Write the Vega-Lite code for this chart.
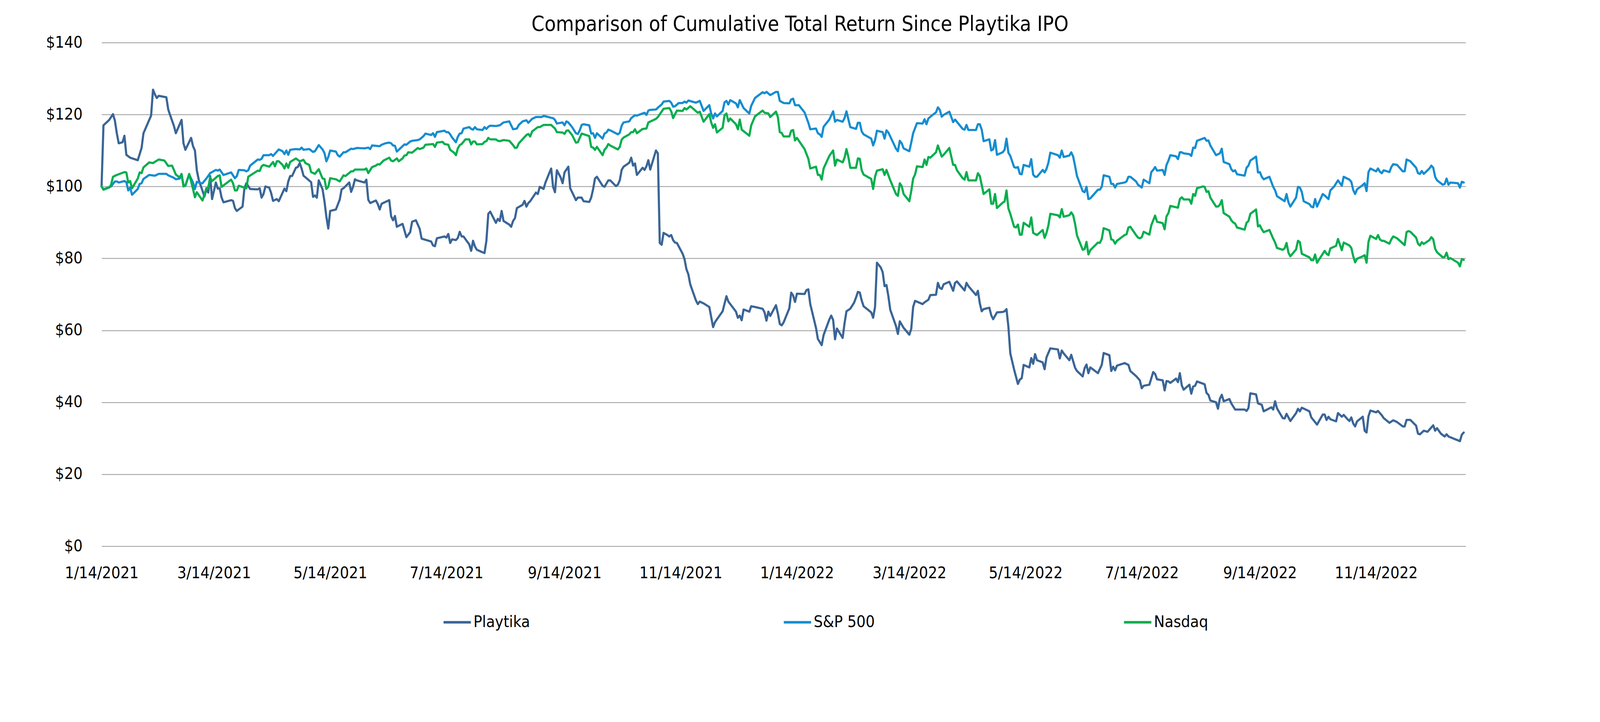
{
"$schema": "https://vega.github.io/schema/vega-lite/v6.json",
"width": 3492, "height": 1289,
"autosize": {"type": "none"},
"padding": {"left": 260, "top": 109, "right": 344, "bottom": 450},
"background": "white",
"title": {"text": "Comparison of Cumulative Total Return Since Playtika IPO", "font": "Liberation Sans Narrow, Arial Narrow, DejaVu Sans Condensed, Liberation Sans, sans-serif", "fontSize": 53, "fontWeight": "normal", "color": "#000000", "anchor": "middle", "offset": -2, "dx": 42},
"config": {"view": {"stroke": null}, "font": "Liberation Sans Narrow, Arial Narrow, DejaVu Sans Condensed, Liberation Sans, sans-serif"},
"encoding": {
 "x": {"field": "d", "type": "temporal",
  "scale": {"type": "utc", "domain": [{"year": 2021, "month": 1, "date": 14, "utc": true}, {"year": 2022, "month": 12, "date": 31, "utc": true}]},
  "axis": {"title": null, "values": [
   {"year": 2021, "month": 1, "date": 14, "utc": true}, {"year": 2021, "month": 3, "date": 14, "utc": true}, {"year": 2021, "month": 5, "date": 14, "utc": true}, {"year": 2021, "month": 7, "date": 14, "utc": true}, {"year": 2021, "month": 9, "date": 14, "utc": true}, {"year": 2021, "month": 11, "date": 14, "utc": true},
   {"year": 2022, "month": 1, "date": 14, "utc": true}, {"year": 2022, "month": 3, "date": 14, "utc": true}, {"year": 2022, "month": 5, "date": 14, "utc": true}, {"year": 2022, "month": 7, "date": 14, "utc": true}, {"year": 2022, "month": 9, "date": 14, "utc": true}, {"year": 2022, "month": 11, "date": 14, "utc": true}],
   "labelExpr": "utcFormat(datum.value, '%-m/%-d/%Y')", "labelFontSize": 41, "labelColor": "#000000", "labelLimit": 1000, "grid": false, "domain": false, "ticks": false, "tickSize": 0, "labelPadding": 49, "labelFlush": false, "labelOverlap": false}},
 "y": {"field": "v", "type": "quantitative", "scale": {"domain": [0, 140], "nice": false, "zero": true},
  "axis": {"title": null, "values": [0, 20, 40, 60, 80, 100, 120, 140], "format": "$.0f", "labelFontSize": 41, "labelColor": "#000000", "labelLimit": 1000, "grid": true, "gridColor": "#999999", "gridWidth": 2, "domain": false, "ticks": false, "tickSize": 0, "labelPadding": 49}}
},
"layer": [
{"data": {"values": [
{"d":"2021-01-14","v":100},{"d":"2021-01-15","v":117},{"d":"2021-01-18","v":118.5},{"d":"2021-01-20","v":120.1},{"d":"2021-01-21","v":118.3},{"d":"2021-01-22","v":114.8},{"d":"2021-01-23","v":112},{"d":"2021-01-25","v":112.3},{"d":"2021-01-26","v":114.1},{"d":"2021-01-27","v":108.8},{"d":"2021-01-29","v":108},{"d":"2021-02-02","v":107.3},{"d":"2021-02-04","v":110.7},{"d":"2021-02-05","v":114.8},{"d":"2021-02-09","v":119.7},{"d":"2021-02-10","v":126.9},{"d":"2021-02-11","v":125.6},{"d":"2021-02-12","v":124.6},{"d":"2021-02-13","v":125.2},{"d":"2021-02-17","v":124.8},{"d":"2021-02-18","v":121.4},{"d":"2021-02-19","v":119.8},{"d":"2021-02-21","v":116.8},{"d":"2021-02-22","v":114.8},{"d":"2021-02-25","v":118.5},{"d":"2021-02-26","v":112},{"d":"2021-02-27","v":110.2},
{"d":"2021-03-02","v":113.5},{"d":"2021-03-03","v":111.2},{"d":"2021-03-04","v":110},{"d":"2021-03-05","v":104.5},{"d":"2021-03-06","v":101.9},{"d":"2021-03-09","v":97.2},{"d":"2021-03-10","v":99.2},{"d":"2021-03-11","v":98.3},{"d":"2021-03-12","v":102.9},{"d":"2021-03-13","v":96.5},{"d":"2021-03-15","v":101.1},{"d":"2021-03-16","v":99.4},{"d":"2021-03-17","v":99.5},{"d":"2021-03-18","v":96.9},{"d":"2021-03-19","v":95.6},{"d":"2021-03-23","v":96.2},{"d":"2021-03-24","v":96},{"d":"2021-03-25","v":94},{"d":"2021-03-26","v":93.2},{"d":"2021-03-29","v":94.4},{"d":"2021-03-30","v":99.5},{"d":"2021-03-31","v":100.9},
{"d":"2021-04-02","v":99.3},{"d":"2021-04-06","v":99.2},{"d":"2021-04-07","v":99.5},{"d":"2021-04-08","v":96.9},{"d":"2021-04-09","v":97.9},{"d":"2021-04-10","v":100},{"d":"2021-04-12","v":99.7},{"d":"2021-04-13","v":98.2},{"d":"2021-04-14","v":96},{"d":"2021-04-16","v":96.5},{"d":"2021-04-17","v":95.9},{"d":"2021-04-20","v":99.4},{"d":"2021-04-21","v":98.7},{"d":"2021-04-22","v":101.4},{"d":"2021-04-23","v":102.9},{"d":"2021-04-24","v":102.9},{"d":"2021-04-26","v":105.2},{"d":"2021-04-27","v":105.4},{"d":"2021-04-28","v":106.5},{"d":"2021-04-29","v":105},{"d":"2021-04-30","v":103},
{"d":"2021-05-04","v":101.2},{"d":"2021-05-05","v":97.1},{"d":"2021-05-06","v":97.5},{"d":"2021-05-07","v":96.9},{"d":"2021-05-08","v":101.7},{"d":"2021-05-10","v":99.2},{"d":"2021-05-11","v":95.9},{"d":"2021-05-12","v":91.6},{"d":"2021-05-13","v":88.3},{"d":"2021-05-14","v":93.2},{"d":"2021-05-17","v":93.6},{"d":"2021-05-19","v":96.3},{"d":"2021-05-20","v":99.2},{"d":"2021-05-21","v":99.5},{"d":"2021-05-24","v":101.1},{"d":"2021-05-25","v":98.5},{"d":"2021-05-26","v":99.9},{"d":"2021-05-27","v":102},{"d":"2021-05-28","v":101.7},
{"d":"2021-06-01","v":101.1},{"d":"2021-06-02","v":101.9},{"d":"2021-06-03","v":96.3},{"d":"2021-06-04","v":95.4},{"d":"2021-06-07","v":96.1},{"d":"2021-06-08","v":95.1},{"d":"2021-06-09","v":93.6},{"d":"2021-06-10","v":95.2},{"d":"2021-06-14","v":96.2},{"d":"2021-06-15","v":91.7},{"d":"2021-06-16","v":90.6},{"d":"2021-06-17","v":91.8},{"d":"2021-06-18","v":88.8},{"d":"2021-06-21","v":89.6},{"d":"2021-06-23","v":85.9},{"d":"2021-06-25","v":87.3},{"d":"2021-06-26","v":90.2},{"d":"2021-06-28","v":90.6},{"d":"2021-06-30","v":88.2},
{"d":"2021-07-01","v":85.5},{"d":"2021-07-06","v":84.7},{"d":"2021-07-07","v":83.6},{"d":"2021-07-08","v":83.4},{"d":"2021-07-09","v":85.6},{"d":"2021-07-13","v":86.1},{"d":"2021-07-14","v":85.8},{"d":"2021-07-15","v":86.8},{"d":"2021-07-16","v":84.3},{"d":"2021-07-17","v":85.3},{"d":"2021-07-19","v":85.1},{"d":"2021-07-20","v":85.7},{"d":"2021-07-21","v":87.4},{"d":"2021-07-22","v":86.1},{"d":"2021-07-23","v":86.1},{"d":"2021-07-26","v":83.9},{"d":"2021-07-27","v":82.1},{"d":"2021-07-28","v":84.9},{"d":"2021-07-29","v":83.3},{"d":"2021-07-30","v":82.4},
{"d":"2021-08-02","v":81.7},{"d":"2021-08-03","v":81.5},{"d":"2021-08-04","v":84.9},{"d":"2021-08-05","v":92.4},{"d":"2021-08-06","v":93},{"d":"2021-08-09","v":89.9},{"d":"2021-08-10","v":91},{"d":"2021-08-11","v":90.4},{"d":"2021-08-12","v":93.2},{"d":"2021-08-13","v":90.4},{"d":"2021-08-16","v":89.4},{"d":"2021-08-17","v":88.8},{"d":"2021-08-18","v":90.4},{"d":"2021-08-19","v":91.2},{"d":"2021-08-20","v":94},{"d":"2021-08-23","v":94.9},{"d":"2021-08-24","v":96},{"d":"2021-08-25","v":94.4},{"d":"2021-08-26","v":95.4},{"d":"2021-08-27","v":95.9},{"d":"2021-08-30","v":98.3},{"d":"2021-08-31","v":97.9},
{"d":"2021-09-01","v":99.9},{"d":"2021-09-03","v":99.3},{"d":"2021-09-04","v":101.1},{"d":"2021-09-07","v":105},{"d":"2021-09-08","v":99.9},{"d":"2021-09-09","v":98.4},{"d":"2021-09-10","v":104.5},{"d":"2021-09-12","v":102.5},{"d":"2021-09-13","v":100.9},{"d":"2021-09-14","v":103.9},{"d":"2021-09-16","v":105.5},{"d":"2021-09-17","v":99.5},{"d":"2021-09-20","v":96.2},{"d":"2021-09-21","v":96.9},{"d":"2021-09-23","v":96.9},{"d":"2021-09-24","v":95.9},{"d":"2021-09-27","v":95.7},{"d":"2021-09-28","v":96.9},{"d":"2021-09-29","v":99.2},{"d":"2021-09-30","v":102.2},
{"d":"2021-10-01","v":102.7},{"d":"2021-10-04","v":100.2},{"d":"2021-10-05","v":99.9},{"d":"2021-10-07","v":101.7},{"d":"2021-10-08","v":101.7},{"d":"2021-10-11","v":100.1},{"d":"2021-10-12","v":100.5},{"d":"2021-10-13","v":101.7},{"d":"2021-10-14","v":104.6},{"d":"2021-10-15","v":105.5},{"d":"2021-10-18","v":106.6},{"d":"2021-10-19","v":108},{"d":"2021-10-20","v":105.8},{"d":"2021-10-21","v":106.4},{"d":"2021-10-22","v":103.2},{"d":"2021-10-25","v":105.2},{"d":"2021-10-26","v":104.6},{"d":"2021-10-27","v":105.6},{"d":"2021-10-28","v":107.3},{"d":"2021-10-29","v":104.7},
{"d":"2021-11-01","v":110},{"d":"2021-11-02","v":109.2},{"d":"2021-11-03","v":84.3},{"d":"2021-11-04","v":83.8},{"d":"2021-11-05","v":87.1},{"d":"2021-11-07","v":86.5},{"d":"2021-11-08","v":86.1},{"d":"2021-11-09","v":86.5},{"d":"2021-11-10","v":85.1},{"d":"2021-11-11","v":84.4},{"d":"2021-11-12","v":84.3},{"d":"2021-11-15","v":81.3},{"d":"2021-11-16","v":79.8},{"d":"2021-11-17","v":77},{"d":"2021-11-18","v":75.6},{"d":"2021-11-19","v":72.8},{"d":"2021-11-22","v":68.3},{"d":"2021-11-23","v":67.3},{"d":"2021-11-24","v":68},{"d":"2021-11-26","v":67.5},{"d":"2021-11-29","v":66.5},
{"d":"2021-12-01","v":60.9},{"d":"2021-12-02","v":62.3},{"d":"2021-12-06","v":65.3},{"d":"2021-12-08","v":69.5},{"d":"2021-12-09","v":68},{"d":"2021-12-13","v":65.2},{"d":"2021-12-14","v":63.5},{"d":"2021-12-15","v":64.1},{"d":"2021-12-16","v":62.8},{"d":"2021-12-17","v":65.8},{"d":"2021-12-20","v":65.2},{"d":"2021-12-21","v":66.7},{"d":"2021-12-23","v":66.5},{"d":"2021-12-27","v":66},{"d":"2021-12-28","v":65},{"d":"2021-12-29","v":62.7},{"d":"2021-12-30","v":65.2},{"d":"2021-12-31","v":64},
{"d":"2022-01-03","v":67},{"d":"2022-01-04","v":64.7},{"d":"2022-01-05","v":61.8},{"d":"2022-01-06","v":61.4},{"d":"2022-01-07","v":62.2},{"d":"2022-01-10","v":66.1},{"d":"2022-01-11","v":70.5},{"d":"2022-01-12","v":69.7},{"d":"2022-01-13","v":67.9},{"d":"2022-01-14","v":70.2},{"d":"2022-01-18","v":70.1},{"d":"2022-01-19","v":71.2},{"d":"2022-01-20","v":71.4},{"d":"2022-01-21","v":67.3},{"d":"2022-01-24","v":60.7},{"d":"2022-01-25","v":57.6},{"d":"2022-01-27","v":55.9},{"d":"2022-01-28","v":58.7},{"d":"2022-01-31","v":63},
{"d":"2022-02-01","v":64.1},{"d":"2022-02-02","v":62.9},{"d":"2022-02-03","v":57.5},{"d":"2022-02-04","v":60.5},{"d":"2022-02-07","v":57.9},{"d":"2022-02-08","v":62},{"d":"2022-02-09","v":65.3},{"d":"2022-02-11","v":66},{"d":"2022-02-13","v":67.7},{"d":"2022-02-14","v":69.1},{"d":"2022-02-15","v":70.7},{"d":"2022-02-16","v":70.5},{"d":"2022-02-17","v":68.3},{"d":"2022-02-18","v":66.7},{"d":"2022-02-22","v":65},{"d":"2022-02-23","v":63.5},{"d":"2022-02-24","v":66.5},{"d":"2022-02-25","v":78.8},{"d":"2022-02-27","v":77.5},{"d":"2022-02-28","v":76.2},
{"d":"2022-03-01","v":72.3},{"d":"2022-03-02","v":72.6},{"d":"2022-03-03","v":69.5},{"d":"2022-03-04","v":65.7},{"d":"2022-03-07","v":61.2},{"d":"2022-03-08","v":59},{"d":"2022-03-09","v":62.5},{"d":"2022-03-11","v":60.7},{"d":"2022-03-14","v":58.8},{"d":"2022-03-15","v":60.4},{"d":"2022-03-16","v":66.5},{"d":"2022-03-17","v":68.2},{"d":"2022-03-21","v":67.3},{"d":"2022-03-22","v":67.8},{"d":"2022-03-24","v":68.5},{"d":"2022-03-25","v":69.8},{"d":"2022-03-28","v":69.9},{"d":"2022-03-29","v":73.2},{"d":"2022-03-30","v":71.8},{"d":"2022-03-31","v":71.5},
{"d":"2022-04-01","v":72.8},{"d":"2022-04-04","v":73.5},{"d":"2022-04-06","v":71},{"d":"2022-04-07","v":73.2},{"d":"2022-04-08","v":73.6},{"d":"2022-04-12","v":71.1},{"d":"2022-04-13","v":73.2},{"d":"2022-04-14","v":72.3},{"d":"2022-04-18","v":69.8},{"d":"2022-04-19","v":71},{"d":"2022-04-20","v":67.5},{"d":"2022-04-21","v":65.3},{"d":"2022-04-22","v":65.9},{"d":"2022-04-25","v":66.3},{"d":"2022-04-26","v":64.2},{"d":"2022-04-27","v":63.1},{"d":"2022-04-29","v":65},
{"d":"2022-05-02","v":65.1},{"d":"2022-05-03","v":65.3},{"d":"2022-05-04","v":65.9},{"d":"2022-05-05","v":61},{"d":"2022-05-06","v":53.6},{"d":"2022-05-08","v":49.1},{"d":"2022-05-10","v":45.1},{"d":"2022-05-11","v":46.3},{"d":"2022-05-12","v":46.7},{"d":"2022-05-13","v":50.4},{"d":"2022-05-16","v":49.7},{"d":"2022-05-17","v":52.3},{"d":"2022-05-18","v":50.7},{"d":"2022-05-19","v":53.4},{"d":"2022-05-20","v":51.7},{"d":"2022-05-23","v":51.1},{"d":"2022-05-24","v":49.2},{"d":"2022-05-25","v":52.5},{"d":"2022-05-27","v":55},{"d":"2022-05-31","v":54.7},
{"d":"2022-06-01","v":52.2},{"d":"2022-06-02","v":54.4},{"d":"2022-06-03","v":53.6},{"d":"2022-06-06","v":51.7},{"d":"2022-06-07","v":53.2},{"d":"2022-06-09","v":49.6},{"d":"2022-06-10","v":48.7},{"d":"2022-06-13","v":47.2},{"d":"2022-06-14","v":49.5},{"d":"2022-06-15","v":50.5},{"d":"2022-06-16","v":48.1},{"d":"2022-06-17","v":49.7},{"d":"2022-06-21","v":48.1},{"d":"2022-06-23","v":50.4},{"d":"2022-06-24","v":53.7},{"d":"2022-06-27","v":53.1},{"d":"2022-06-28","v":48.7},{"d":"2022-06-29","v":49.9},{"d":"2022-06-30","v":48.9},
{"d":"2022-07-01","v":50.2},{"d":"2022-07-05","v":50.9},{"d":"2022-07-07","v":50.4},{"d":"2022-07-08","v":48.7},{"d":"2022-07-11","v":47.3},{"d":"2022-07-13","v":46.1},{"d":"2022-07-14","v":43.9},{"d":"2022-07-15","v":44.6},{"d":"2022-07-18","v":44.9},{"d":"2022-07-20","v":48.4},{"d":"2022-07-21","v":47.9},{"d":"2022-07-22","v":46.4},{"d":"2022-07-25","v":46.1},{"d":"2022-07-26","v":43.3},{"d":"2022-07-27","v":45.9},{"d":"2022-07-28","v":45.8},{"d":"2022-07-29","v":45.4},
{"d":"2022-08-01","v":46.6},{"d":"2022-08-02","v":45.6},{"d":"2022-08-03","v":48.1},{"d":"2022-08-04","v":44.7},{"d":"2022-08-05","v":43.5},{"d":"2022-08-08","v":44.9},{"d":"2022-08-09","v":42.4},{"d":"2022-08-10","v":44.4},{"d":"2022-08-11","v":44.6},{"d":"2022-08-12","v":45.8},{"d":"2022-08-16","v":45},{"d":"2022-08-17","v":42.6},{"d":"2022-08-18","v":42.1},{"d":"2022-08-19","v":40.5},{"d":"2022-08-22","v":40},{"d":"2022-08-23","v":38.2},{"d":"2022-08-24","v":41},{"d":"2022-08-25","v":42.1},{"d":"2022-08-26","v":40.3},{"d":"2022-08-29","v":40.9},{"d":"2022-08-30","v":39.7},
{"d":"2022-09-01","v":38},{"d":"2022-09-06","v":38},{"d":"2022-09-07","v":37.6},{"d":"2022-09-08","v":38.4},{"d":"2022-09-09","v":42.5},{"d":"2022-09-12","v":42.2},{"d":"2022-09-13","v":39.7},{"d":"2022-09-15","v":39.3},{"d":"2022-09-16","v":37.5},{"d":"2022-09-20","v":38.6},{"d":"2022-09-21","v":38},{"d":"2022-09-22","v":40.3},{"d":"2022-09-23","v":38.3},{"d":"2022-09-26","v":35.6},{"d":"2022-09-27","v":35.5},{"d":"2022-09-28","v":36.8},{"d":"2022-09-30","v":34.8},
{"d":"2022-10-03","v":37},{"d":"2022-10-04","v":38.2},{"d":"2022-10-05","v":37.5},{"d":"2022-10-06","v":38.5},{"d":"2022-10-10","v":37.5},{"d":"2022-10-11","v":35.8},{"d":"2022-10-14","v":33.8},{"d":"2022-10-17","v":36.6},{"d":"2022-10-18","v":36.6},{"d":"2022-10-19","v":35.1},{"d":"2022-10-20","v":36},{"d":"2022-10-21","v":35.3},{"d":"2022-10-24","v":34.7},{"d":"2022-10-25","v":37},{"d":"2022-10-27","v":36},{"d":"2022-10-28","v":36.5},{"d":"2022-10-30","v":35.3},{"d":"2022-10-31","v":34.8},
{"d":"2022-11-01","v":35.8},{"d":"2022-11-02","v":34.1},{"d":"2022-11-03","v":33.3},{"d":"2022-11-04","v":34.7},{"d":"2022-11-07","v":36},{"d":"2022-11-08","v":32.1},{"d":"2022-11-09","v":31.6},{"d":"2022-11-10","v":36.1},{"d":"2022-11-11","v":37.7},{"d":"2022-11-14","v":37.2},{"d":"2022-11-15","v":37.6},{"d":"2022-11-17","v":36.4},{"d":"2022-11-18","v":35.6},{"d":"2022-11-21","v":34.3},{"d":"2022-11-23","v":35},{"d":"2022-11-25","v":34.5},{"d":"2022-11-28","v":33.3},{"d":"2022-11-29","v":33.3},{"d":"2022-11-30","v":35.1},
{"d":"2022-12-02","v":35.1},{"d":"2022-12-05","v":33.5},{"d":"2022-12-06","v":31.3},{"d":"2022-12-07","v":31.1},{"d":"2022-12-09","v":32.1},{"d":"2022-12-11","v":31.8},{"d":"2022-12-12","v":32.4},{"d":"2022-12-14","v":33.6},{"d":"2022-12-15","v":32.1},{"d":"2022-12-16","v":32.8},{"d":"2022-12-18","v":31.3},{"d":"2022-12-20","v":30.5},{"d":"2022-12-21","v":31.1},{"d":"2022-12-22","v":30.5},{"d":"2022-12-28","v":29.2},{"d":"2022-12-29","v":31},{"d":"2022-12-30","v":31.6}
]},
 "mark": {"type": "line", "strokeWidth": 5.5, "strokeJoin": "round", "strokeCap": "round"},
 "encoding": {"color": {"datum": "Playtika", "type": "nominal",
  "scale": {"domain": ["Playtika", "S&P 500", "Nasdaq"], "range": ["#3A6596", "#148DD0", "#05AE4E"]},
  "legend": {"title": null, "orient": "none", "legendX": 872, "legendY": 1445, "direction": "horizontal", "columns": 3, "gridAlign": "all", "columnPadding": 624, "symbolType": "stroke", "symbolSize": 4900, "symbolStrokeWidth": 6.5, "labelFontSize": 41, "labelColor": "#000000", "labelOffset": 3, "labelLimit": 1000}}}
},
{"data": {"values": [
{"d":"2021-01-14","v":100},{"d":"2021-01-15","v":99.2},{"d":"2021-01-19","v":100},{"d":"2021-01-21","v":101.4},{"d":"2021-01-22","v":101.4},{"d":"2021-01-23","v":101.1},{"d":"2021-01-26","v":101.5},{"d":"2021-01-27","v":101.2},{"d":"2021-01-28","v":98.9},{"d":"2021-01-29","v":99.7},{"d":"2021-01-30","v":97.7},{"d":"2021-02-02","v":99.3},{"d":"2021-02-03","v":100.7},{"d":"2021-02-04","v":100.9},{"d":"2021-02-05","v":102.1},{"d":"2021-02-08","v":103.2},{"d":"2021-02-11","v":103},{"d":"2021-02-13","v":103.5},{"d":"2021-02-17","v":103.5},{"d":"2021-02-18","v":103.1},{"d":"2021-02-21","v":102.4},{"d":"2021-02-22","v":102},{"d":"2021-02-24","v":102.2},{"d":"2021-02-25","v":103.2},{"d":"2021-02-26","v":100.4},{"d":"2021-02-27","v":100.2},
{"d":"2021-03-01","v":103.3},{"d":"2021-03-03","v":101.1},{"d":"2021-03-04","v":99.3},{"d":"2021-03-05","v":101.3},{"d":"2021-03-07","v":100.9},{"d":"2021-03-08","v":100.9},{"d":"2021-03-10","v":102.2},{"d":"2021-03-12","v":103.7},{"d":"2021-03-15","v":104.6},{"d":"2021-03-16","v":104.4},{"d":"2021-03-17","v":104.7},{"d":"2021-03-19","v":103.2},{"d":"2021-03-23","v":103.9},{"d":"2021-03-25","v":102.3},{"d":"2021-03-26","v":102.9},{"d":"2021-03-27","v":104.6},{"d":"2021-03-30","v":104.5},{"d":"2021-03-31","v":104.2},
{"d":"2021-04-01","v":104.5},{"d":"2021-04-02","v":105.8},{"d":"2021-04-06","v":107.5},{"d":"2021-04-07","v":107.4},{"d":"2021-04-08","v":107.7},{"d":"2021-04-09","v":108.7},{"d":"2021-04-12","v":108.7},{"d":"2021-04-13","v":109},{"d":"2021-04-14","v":108.5},{"d":"2021-04-16","v":109.7},{"d":"2021-04-17","v":110.3},{"d":"2021-04-19","v":109.8},{"d":"2021-04-20","v":109},{"d":"2021-04-21","v":110},{"d":"2021-04-22","v":108.8},{"d":"2021-04-23","v":110.2},{"d":"2021-04-26","v":110.4},{"d":"2021-04-28","v":110.3},{"d":"2021-04-29","v":110.8},{"d":"2021-04-30","v":110.2},
{"d":"2021-05-03","v":110.4},{"d":"2021-05-05","v":109.6},{"d":"2021-05-06","v":109.8},{"d":"2021-05-08","v":111.5},{"d":"2021-05-10","v":110.3},{"d":"2021-05-11","v":109.3},{"d":"2021-05-12","v":107},{"d":"2021-05-13","v":108.2},{"d":"2021-05-14","v":110},{"d":"2021-05-17","v":109.7},{"d":"2021-05-18","v":108.7},{"d":"2021-05-19","v":108.3},{"d":"2021-05-21","v":109.5},{"d":"2021-05-22","v":109.5},{"d":"2021-05-25","v":110.5},{"d":"2021-05-26","v":110.4},{"d":"2021-05-28","v":110.7},
{"d":"2021-06-01","v":110.6},{"d":"2021-06-03","v":110.8},{"d":"2021-06-04","v":110.4},{"d":"2021-06-05","v":111.4},{"d":"2021-06-09","v":111.2},{"d":"2021-06-10","v":111.6},{"d":"2021-06-12","v":112},{"d":"2021-06-14","v":112.2},{"d":"2021-06-15","v":112},{"d":"2021-06-16","v":111.4},{"d":"2021-06-17","v":111.3},{"d":"2021-06-18","v":109.7},{"d":"2021-06-22","v":111.7},{"d":"2021-06-23","v":111.6},{"d":"2021-06-25","v":112.5},{"d":"2021-06-26","v":112.7},{"d":"2021-06-29","v":112.9},{"d":"2021-06-30","v":113.1},
{"d":"2021-07-02","v":114},{"d":"2021-07-03","v":114.7},{"d":"2021-07-06","v":114.3},{"d":"2021-07-07","v":114.8},{"d":"2021-07-08","v":113.8},{"d":"2021-07-09","v":115.1},{"d":"2021-07-13","v":115.5},{"d":"2021-07-14","v":115.1},{"d":"2021-07-15","v":115.1},{"d":"2021-07-16","v":114.5},{"d":"2021-07-17","v":113.6},{"d":"2021-07-19","v":112.3},{"d":"2021-07-20","v":113.8},{"d":"2021-07-21","v":114.7},{"d":"2021-07-22","v":114.8},{"d":"2021-07-23","v":116.1},{"d":"2021-07-26","v":116.5},{"d":"2021-07-27","v":116},{"d":"2021-07-28","v":115.8},{"d":"2021-07-29","v":116.5},{"d":"2021-07-30","v":115.9},
{"d":"2021-08-02","v":115.7},{"d":"2021-08-03","v":116.5},{"d":"2021-08-04","v":116},{"d":"2021-08-05","v":116.6},{"d":"2021-08-06","v":116.9},{"d":"2021-08-09","v":116.8},{"d":"2021-08-11","v":117},{"d":"2021-08-13","v":117.8},{"d":"2021-08-16","v":118.1},{"d":"2021-08-18","v":115.9},{"d":"2021-08-20","v":116.1},{"d":"2021-08-21","v":117.1},{"d":"2021-08-23","v":118.1},{"d":"2021-08-25","v":118.4},{"d":"2021-08-26","v":117.7},{"d":"2021-08-28","v":118.8},{"d":"2021-08-30","v":119.3},
{"d":"2021-09-02","v":119.3},{"d":"2021-09-03","v":119.6},{"d":"2021-09-04","v":119.5},{"d":"2021-09-07","v":119.1},{"d":"2021-09-08","v":119},{"d":"2021-09-09","v":118.5},{"d":"2021-09-10","v":117.5},{"d":"2021-09-13","v":117.8},{"d":"2021-09-14","v":117},{"d":"2021-09-15","v":118.1},{"d":"2021-09-16","v":117.8},{"d":"2021-09-18","v":116.5},{"d":"2021-09-20","v":114.8},{"d":"2021-09-21","v":114.6},{"d":"2021-09-22","v":115.6},{"d":"2021-09-23","v":117.1},{"d":"2021-09-24","v":117.3},{"d":"2021-09-27","v":117},{"d":"2021-09-28","v":114.7},{"d":"2021-09-29","v":114.8},{"d":"2021-09-30","v":113.5},
{"d":"2021-10-01","v":114.8},{"d":"2021-10-04","v":113.3},{"d":"2021-10-05","v":114.7},{"d":"2021-10-06","v":115},{"d":"2021-10-07","v":115.8},{"d":"2021-10-08","v":115.6},{"d":"2021-10-12","v":114.5},{"d":"2021-10-13","v":114.9},{"d":"2021-10-14","v":116.9},{"d":"2021-10-15","v":117.8},{"d":"2021-10-18","v":118.1},{"d":"2021-10-19","v":119},{"d":"2021-10-21","v":119.8},{"d":"2021-10-22","v":119.7},{"d":"2021-10-26","v":120.5},{"d":"2021-10-27","v":119.9},{"d":"2021-10-28","v":121.1},{"d":"2021-10-29","v":121.3},
{"d":"2021-11-01","v":121.4},{"d":"2021-11-02","v":121.9},{"d":"2021-11-04","v":122.8},{"d":"2021-11-05","v":123.6},{"d":"2021-11-08","v":123.8},{"d":"2021-11-09","v":123.3},{"d":"2021-11-10","v":122.2},{"d":"2021-11-11","v":122.3},{"d":"2021-11-13","v":123.2},{"d":"2021-11-15","v":123.2},{"d":"2021-11-16","v":123.6},{"d":"2021-11-17","v":123.3},{"d":"2021-11-18","v":123.9},{"d":"2021-11-22","v":123.3},{"d":"2021-11-24","v":123.8},{"d":"2021-11-26","v":121},{"d":"2021-11-29","v":122.6},{"d":"2021-11-30","v":120.3},
{"d":"2021-12-01","v":118.9},{"d":"2021-12-02","v":120.3},{"d":"2021-12-03","v":119.5},{"d":"2021-12-06","v":121},{"d":"2021-12-07","v":123.4},{"d":"2021-12-08","v":123.8},{"d":"2021-12-09","v":122.8},{"d":"2021-12-10","v":124},{"d":"2021-12-13","v":123.1},{"d":"2021-12-14","v":122},{"d":"2021-12-15","v":124},{"d":"2021-12-17","v":121.8},{"d":"2021-12-20","v":120.3},{"d":"2021-12-21","v":122.4},{"d":"2021-12-23","v":124.6},{"d":"2021-12-27","v":126.2},{"d":"2021-12-28","v":125.9},{"d":"2021-12-29","v":126.3},{"d":"2021-12-31","v":125.4},
{"d":"2022-01-03","v":126.3},{"d":"2022-01-04","v":126.3},{"d":"2022-01-05","v":123.8},{"d":"2022-01-07","v":123.2},{"d":"2022-01-10","v":123.1},{"d":"2022-01-11","v":124.2},{"d":"2022-01-12","v":124.4},{"d":"2022-01-13","v":122.6},{"d":"2022-01-15","v":122.6},{"d":"2022-01-18","v":120.6},{"d":"2022-01-20","v":117.7},{"d":"2022-01-21","v":115.9},{"d":"2022-01-24","v":116.1},{"d":"2022-01-25","v":114.8},{"d":"2022-01-26","v":114.5},{"d":"2022-01-27","v":113.8},{"d":"2022-01-28","v":116.6},{"d":"2022-01-31","v":118.6},
{"d":"2022-02-02","v":120.9},{"d":"2022-02-03","v":118},{"d":"2022-02-04","v":118.5},{"d":"2022-02-07","v":118},{"d":"2022-02-08","v":119},{"d":"2022-02-09","v":120.9},{"d":"2022-02-11","v":116.5},{"d":"2022-02-14","v":116},{"d":"2022-02-15","v":117.7},{"d":"2022-02-16","v":117.7},{"d":"2022-02-17","v":115.3},{"d":"2022-02-18","v":114.5},{"d":"2022-02-22","v":113.3},{"d":"2022-02-23","v":111.4},{"d":"2022-02-24","v":112.9},{"d":"2022-02-25","v":115.5},{"d":"2022-02-28","v":115.1},
{"d":"2022-03-01","v":113.3},{"d":"2022-03-02","v":115.6},{"d":"2022-03-03","v":115},{"d":"2022-03-07","v":110.5},{"d":"2022-03-08","v":109.8},{"d":"2022-03-09","v":112.7},{"d":"2022-03-10","v":112},{"d":"2022-03-11","v":110.6},{"d":"2022-03-14","v":109.8},{"d":"2022-03-15","v":112.2},{"d":"2022-03-16","v":114.8},{"d":"2022-03-18","v":117.6},{"d":"2022-03-21","v":117.5},{"d":"2022-03-22","v":118.7},{"d":"2022-03-23","v":117.3},{"d":"2022-03-24","v":118.9},{"d":"2022-03-26","v":119.8},{"d":"2022-03-28","v":120.6},{"d":"2022-03-29","v":122},{"d":"2022-03-30","v":121.3},{"d":"2022-03-31","v":119.4},
{"d":"2022-04-01","v":119.9},{"d":"2022-04-04","v":120.8},{"d":"2022-04-06","v":117.9},{"d":"2022-04-07","v":118.6},{"d":"2022-04-11","v":116},{"d":"2022-04-12","v":115.8},{"d":"2022-04-13","v":117.1},{"d":"2022-04-14","v":115.7},{"d":"2022-04-18","v":115.7},{"d":"2022-04-19","v":117.3},{"d":"2022-04-20","v":117.3},{"d":"2022-04-21","v":115.8},{"d":"2022-04-22","v":112.6},{"d":"2022-04-25","v":113.1},{"d":"2022-04-26","v":110},{"d":"2022-04-27","v":110.3},{"d":"2022-04-28","v":112.9},{"d":"2022-04-29","v":108.8},
{"d":"2022-05-02","v":109.5},{"d":"2022-05-03","v":110.2},{"d":"2022-05-04","v":113.3},{"d":"2022-05-05","v":109.4},{"d":"2022-05-06","v":108.5},{"d":"2022-05-08","v":105.4},{"d":"2022-05-09","v":105.2},{"d":"2022-05-10","v":105.4},{"d":"2022-05-11","v":103.5},{"d":"2022-05-12","v":103.4},{"d":"2022-05-13","v":106},{"d":"2022-05-16","v":105.5},{"d":"2022-05-17","v":107.6},{"d":"2022-05-18","v":103.3},{"d":"2022-05-19","v":102.7},{"d":"2022-05-20","v":102.7},{"d":"2022-05-23","v":104.6},{"d":"2022-05-24","v":103.9},{"d":"2022-05-25","v":104.9},{"d":"2022-05-26","v":106.6},{"d":"2022-05-27","v":109.4},{"d":"2022-05-31","v":108.7},
{"d":"2022-06-01","v":108},{"d":"2022-06-02","v":110},{"d":"2022-06-03","v":108.2},{"d":"2022-06-06","v":108.6},{"d":"2022-06-07","v":109.5},{"d":"2022-06-08","v":108.3},{"d":"2022-06-09","v":105.7},{"d":"2022-06-10","v":102.9},{"d":"2022-06-13","v":98.7},{"d":"2022-06-14","v":98.4},{"d":"2022-06-15","v":99.9},{"d":"2022-06-16","v":96.5},{"d":"2022-06-17","v":96.7},{"d":"2022-06-21","v":99.1},{"d":"2022-06-22","v":99.1},{"d":"2022-06-23","v":99.9},{"d":"2022-06-24","v":103.1},{"d":"2022-06-27","v":102.7},{"d":"2022-06-28","v":100.7},{"d":"2022-06-29","v":100.7},{"d":"2022-06-30","v":99.7},
{"d":"2022-07-01","v":100.7},{"d":"2022-07-05","v":101.1},{"d":"2022-07-06","v":101.4},{"d":"2022-07-07","v":102.7},{"d":"2022-07-08","v":102.7},{"d":"2022-07-11","v":101.4},{"d":"2022-07-12","v":100.5},{"d":"2022-07-14","v":99.7},{"d":"2022-07-15","v":101.9},{"d":"2022-07-18","v":100.9},{"d":"2022-07-19","v":104},{"d":"2022-07-20","v":104.6},{"d":"2022-07-21","v":105.4},{"d":"2022-07-22","v":104.4},{"d":"2022-07-25","v":104.6},{"d":"2022-07-26","v":103.2},{"d":"2022-07-27","v":106},{"d":"2022-07-28","v":107.2},{"d":"2022-07-29","v":108.7},
{"d":"2022-08-01","v":108.4},{"d":"2022-08-02","v":107.6},{"d":"2022-08-03","v":109.5},{"d":"2022-08-04","v":109.5},{"d":"2022-08-05","v":109.2},{"d":"2022-08-08","v":109},{"d":"2022-08-09","v":108.5},{"d":"2022-08-10","v":110.8},{"d":"2022-08-11","v":110.7},{"d":"2022-08-12","v":112.7},{"d":"2022-08-15","v":113.3},{"d":"2022-08-16","v":113.5},{"d":"2022-08-17","v":112.7},{"d":"2022-08-18","v":112.8},{"d":"2022-08-19","v":111.4},{"d":"2022-08-22","v":108.7},{"d":"2022-08-24","v":109.2},{"d":"2022-08-25","v":110.5},{"d":"2022-08-26","v":106.8},{"d":"2022-08-29","v":106.2},{"d":"2022-08-30","v":104.8},{"d":"2022-08-31","v":104.2},
{"d":"2022-09-01","v":104.5},{"d":"2022-09-02","v":103.4},{"d":"2022-09-06","v":103},{"d":"2022-09-07","v":105.2},{"d":"2022-09-08","v":105.8},{"d":"2022-09-09","v":107.2},{"d":"2022-09-12","v":108.3},{"d":"2022-09-13","v":103.9},{"d":"2022-09-14","v":104},{"d":"2022-09-15","v":102.7},{"d":"2022-09-16","v":102},{"d":"2022-09-19","v":102.7},{"d":"2022-09-21","v":99.9},{"d":"2022-09-22","v":98.9},{"d":"2022-09-23","v":97.3},{"d":"2022-09-27","v":95.9},{"d":"2022-09-28","v":97.9},{"d":"2022-09-29","v":95.6},{"d":"2022-09-30","v":94.4},
{"d":"2022-10-03","v":96.9},{"d":"2022-10-04","v":99.9},{"d":"2022-10-05","v":99.7},{"d":"2022-10-06","v":98.5},{"d":"2022-10-07","v":95.9},{"d":"2022-10-10","v":95.1},{"d":"2022-10-11","v":94.4},{"d":"2022-10-12","v":94.2},{"d":"2022-10-13","v":96.5},{"d":"2022-10-14","v":94.4},{"d":"2022-10-17","v":97.9},{"d":"2022-10-18","v":97.5},{"d":"2022-10-20","v":96.5},{"d":"2022-10-21","v":98.9},{"d":"2022-10-23","v":100},{"d":"2022-10-25","v":101.7},{"d":"2022-10-27","v":100.2},{"d":"2022-10-28","v":102.7},{"d":"2022-10-31","v":101.9},
{"d":"2022-11-01","v":101.3},{"d":"2022-11-02","v":99},{"d":"2022-11-03","v":97.9},{"d":"2022-11-04","v":99.2},{"d":"2022-11-07","v":100.4},{"d":"2022-11-08","v":100.9},{"d":"2022-11-09","v":98.7},{"d":"2022-11-10","v":104},{"d":"2022-11-11","v":105},{"d":"2022-11-14","v":104.2},{"d":"2022-11-15","v":105},{"d":"2022-11-16","v":104.1},{"d":"2022-11-17","v":103.7},{"d":"2022-11-18","v":104.5},{"d":"2022-11-21","v":104},{"d":"2022-11-22","v":105.4},{"d":"2022-11-23","v":106.2},{"d":"2022-11-25","v":106},{"d":"2022-11-28","v":104.2},{"d":"2022-11-29","v":104.2},{"d":"2022-11-30","v":107.5},
{"d":"2022-12-02","v":107},{"d":"2022-12-05","v":105.2},{"d":"2022-12-06","v":103.7},{"d":"2022-12-07","v":103.5},{"d":"2022-12-08","v":104.3},{"d":"2022-12-09","v":103.5},{"d":"2022-12-12","v":105},{"d":"2022-12-13","v":105.8},{"d":"2022-12-14","v":105.2},{"d":"2022-12-15","v":102.7},{"d":"2022-12-16","v":101.7},{"d":"2022-12-19","v":100.5},{"d":"2022-12-20","v":100.7},{"d":"2022-12-21","v":102.2},{"d":"2022-12-22","v":100.5},{"d":"2022-12-23","v":101.1},{"d":"2022-12-27","v":100.9},{"d":"2022-12-28","v":99.7},{"d":"2022-12-29","v":101.3},{"d":"2022-12-30","v":101.1}
]},
 "mark": {"type": "line", "strokeWidth": 5.5, "strokeJoin": "round", "strokeCap": "round"},
 "encoding": {"color": {"datum": "S&P 500", "type": "nominal"}}
},
{"data": {"values": [
{"d":"2021-01-14","v":100},{"d":"2021-01-15","v":99.1},{"d":"2021-01-18","v":99.7},{"d":"2021-01-19","v":100.5},{"d":"2021-01-20","v":102.7},{"d":"2021-01-22","v":103.2},{"d":"2021-01-23","v":103.4},{"d":"2021-01-26","v":104},{"d":"2021-01-27","v":103.9},{"d":"2021-01-28","v":101.1},{"d":"2021-01-29","v":101.5},{"d":"2021-01-30","v":99.5},{"d":"2021-02-02","v":102.2},{"d":"2021-02-03","v":103.9},{"d":"2021-02-04","v":103.7},{"d":"2021-02-05","v":105.3},{"d":"2021-02-08","v":106.7},{"d":"2021-02-10","v":106.5},{"d":"2021-02-13","v":107.5},{"d":"2021-02-16","v":107.2},{"d":"2021-02-18","v":105.7},{"d":"2021-02-20","v":105.8},{"d":"2021-02-22","v":103.3},{"d":"2021-02-24","v":102.5},{"d":"2021-02-25","v":103.5},{"d":"2021-02-26","v":100},{"d":"2021-02-27","v":100.3},
{"d":"2021-03-01","v":103.5},{"d":"2021-03-03","v":99.3},{"d":"2021-03-04","v":97},{"d":"2021-03-05","v":98.4},{"d":"2021-03-08","v":96.1},{"d":"2021-03-10","v":99.5},{"d":"2021-03-11","v":99.7},{"d":"2021-03-12","v":102.5},{"d":"2021-03-13","v":101.5},{"d":"2021-03-16","v":102.9},{"d":"2021-03-17","v":103.1},{"d":"2021-03-18","v":99.9},{"d":"2021-03-20","v":100.7},{"d":"2021-03-23","v":101.9},{"d":"2021-03-24","v":100.9},{"d":"2021-03-25","v":98.9},{"d":"2021-03-26","v":98.9},{"d":"2021-03-27","v":100.2},{"d":"2021-03-31","v":99.5},
{"d":"2021-04-01","v":102.7},{"d":"2021-04-06","v":104.4},{"d":"2021-04-07","v":104.3},{"d":"2021-04-08","v":105.6},{"d":"2021-04-09","v":106},{"d":"2021-04-12","v":105.5},{"d":"2021-04-14","v":106.8},{"d":"2021-04-15","v":105.6},{"d":"2021-04-16","v":107},{"d":"2021-04-17","v":107},{"d":"2021-04-19","v":106},{"d":"2021-04-20","v":105},{"d":"2021-04-21","v":106.4},{"d":"2021-04-22","v":105.2},{"d":"2021-04-23","v":106.8},{"d":"2021-04-26","v":107.8},{"d":"2021-04-28","v":107},{"d":"2021-04-30","v":107.4},
{"d":"2021-05-01","v":106.5},{"d":"2021-05-03","v":106},{"d":"2021-05-04","v":104},{"d":"2021-05-06","v":103.5},{"d":"2021-05-08","v":104.8},{"d":"2021-05-10","v":102.2},{"d":"2021-05-11","v":102.1},{"d":"2021-05-12","v":99.3},{"d":"2021-05-13","v":99.9},{"d":"2021-05-14","v":102.3},{"d":"2021-05-17","v":102},{"d":"2021-05-19","v":101.4},{"d":"2021-05-21","v":103.1},{"d":"2021-05-22","v":102.9},{"d":"2021-05-25","v":104.2},{"d":"2021-05-26","v":104.2},{"d":"2021-05-27","v":104.7},
{"d":"2021-06-01","v":104.7},{"d":"2021-06-02","v":105},{"d":"2021-06-03","v":103.7},{"d":"2021-06-05","v":105.4},{"d":"2021-06-07","v":105.8},{"d":"2021-06-08","v":106.2},{"d":"2021-06-09","v":106.1},{"d":"2021-06-11","v":107.2},{"d":"2021-06-14","v":108},{"d":"2021-06-15","v":107.2},{"d":"2021-06-16","v":107},{"d":"2021-06-18","v":107.8},{"d":"2021-06-19","v":107},{"d":"2021-06-21","v":107.8},{"d":"2021-06-22","v":108.6},{"d":"2021-06-23","v":108.7},{"d":"2021-06-24","v":109.5},{"d":"2021-06-26","v":109.4},{"d":"2021-06-29","v":110.7},{"d":"2021-06-30","v":110.4},
{"d":"2021-07-02","v":110.8},{"d":"2021-07-03","v":111.6},{"d":"2021-07-07","v":111.8},{"d":"2021-07-08","v":111},{"d":"2021-07-09","v":112.2},{"d":"2021-07-12","v":112.4},{"d":"2021-07-13","v":111.8},{"d":"2021-07-15","v":111.6},{"d":"2021-07-16","v":110.2},{"d":"2021-07-18","v":109.4},{"d":"2021-07-19","v":108.7},{"d":"2021-07-20","v":110.6},{"d":"2021-07-21","v":111.5},{"d":"2021-07-22","v":111.8},{"d":"2021-07-24","v":113.1},{"d":"2021-07-26","v":113.1},{"d":"2021-07-27","v":111.7},{"d":"2021-07-28","v":112.5},{"d":"2021-07-29","v":112.5},{"d":"2021-07-30","v":111.7},
{"d":"2021-08-02","v":111.8},{"d":"2021-08-03","v":112.4},{"d":"2021-08-04","v":112.6},{"d":"2021-08-05","v":113.5},{"d":"2021-08-06","v":113.1},{"d":"2021-08-09","v":113.1},{"d":"2021-08-10","v":112.7},{"d":"2021-08-11","v":112.6},{"d":"2021-08-13","v":112.9},{"d":"2021-08-16","v":112.7},{"d":"2021-08-18","v":111.5},{"d":"2021-08-19","v":110.7},{"d":"2021-08-20","v":110.8},{"d":"2021-08-21","v":112},{"d":"2021-08-25","v":114.3},{"d":"2021-08-26","v":114.6},{"d":"2021-08-27","v":113.9},{"d":"2021-08-28","v":115.3},{"d":"2021-08-31","v":116.5},
{"d":"2021-09-01","v":116.5},{"d":"2021-09-02","v":116.8},{"d":"2021-09-03","v":117.1},{"d":"2021-09-07","v":117.1},{"d":"2021-09-08","v":116.6},{"d":"2021-09-09","v":116.1},{"d":"2021-09-10","v":115.1},{"d":"2021-09-13","v":115},{"d":"2021-09-14","v":114.6},{"d":"2021-09-15","v":115.5},{"d":"2021-09-16","v":115.6},{"d":"2021-09-18","v":114.3},{"d":"2021-09-20","v":112.2},{"d":"2021-09-21","v":112.3},{"d":"2021-09-23","v":114.7},{"d":"2021-09-27","v":114},{"d":"2021-09-28","v":111},{"d":"2021-09-29","v":110.8},{"d":"2021-09-30","v":110.2},
{"d":"2021-10-01","v":111},{"d":"2021-10-04","v":108.7},{"d":"2021-10-05","v":110.2},{"d":"2021-10-06","v":110.8},{"d":"2021-10-07","v":111.8},{"d":"2021-10-08","v":111.4},{"d":"2021-10-12","v":110.3},{"d":"2021-10-13","v":111},{"d":"2021-10-14","v":113},{"d":"2021-10-15","v":113.6},{"d":"2021-10-18","v":114.5},{"d":"2021-10-19","v":115.1},{"d":"2021-10-20","v":115.1},{"d":"2021-10-21","v":115.9},{"d":"2021-10-22","v":114.8},{"d":"2021-10-25","v":116},{"d":"2021-10-27","v":116.1},{"d":"2021-10-28","v":117.8},
{"d":"2021-11-01","v":118.8},{"d":"2021-11-02","v":119.3},{"d":"2021-11-05","v":121.6},{"d":"2021-11-08","v":121.8},{"d":"2021-11-09","v":120.9},{"d":"2021-11-10","v":119},{"d":"2021-11-12","v":121.1},{"d":"2021-11-15","v":121},{"d":"2021-11-16","v":121.8},{"d":"2021-11-17","v":121.4},{"d":"2021-11-19","v":122.3},{"d":"2021-11-23","v":120.5},{"d":"2021-11-24","v":120.8},{"d":"2021-11-26","v":118},{"d":"2021-11-29","v":120.1},{"d":"2021-11-30","v":117.8},
{"d":"2021-12-01","v":116.3},{"d":"2021-12-02","v":117.3},{"d":"2021-12-03","v":115},{"d":"2021-12-06","v":116.3},{"d":"2021-12-07","v":119.8},{"d":"2021-12-08","v":120.3},{"d":"2021-12-09","v":118.1},{"d":"2021-12-10","v":118.9},{"d":"2021-12-13","v":117.3},{"d":"2021-12-14","v":115.9},{"d":"2021-12-15","v":118.6},{"d":"2021-12-16","v":115.8},{"d":"2021-12-20","v":114.1},{"d":"2021-12-21","v":117},{"d":"2021-12-23","v":119.5},{"d":"2021-12-27","v":121.1},{"d":"2021-12-28","v":120.5},{"d":"2021-12-30","v":120.3},{"d":"2021-12-31","v":119.3},
{"d":"2022-01-03","v":120.8},{"d":"2022-01-04","v":119.3},{"d":"2022-01-05","v":115.1},{"d":"2022-01-06","v":114.9},{"d":"2022-01-07","v":113.9},{"d":"2022-01-10","v":113.9},{"d":"2022-01-11","v":115.5},{"d":"2022-01-12","v":115.7},{"d":"2022-01-13","v":112.8},{"d":"2022-01-14","v":113.5},{"d":"2022-01-18","v":110.4},{"d":"2022-01-20","v":107.7},{"d":"2022-01-21","v":105},{"d":"2022-01-24","v":105.5},{"d":"2022-01-25","v":103.2},{"d":"2022-01-26","v":103.2},{"d":"2022-01-27","v":101.9},{"d":"2022-01-28","v":105},{"d":"2022-01-31","v":108.5},
{"d":"2022-02-02","v":110},{"d":"2022-02-03","v":105.8},{"d":"2022-02-04","v":107.5},{"d":"2022-02-07","v":106.7},{"d":"2022-02-08","v":108},{"d":"2022-02-09","v":110.4},{"d":"2022-02-10","v":108.2},{"d":"2022-02-11","v":105.2},{"d":"2022-02-14","v":105.2},{"d":"2022-02-15","v":107.8},{"d":"2022-02-16","v":107.7},{"d":"2022-02-17","v":104.5},{"d":"2022-02-18","v":103.3},{"d":"2022-02-22","v":102.1},{"d":"2022-02-23","v":99.3},{"d":"2022-02-24","v":102.7},{"d":"2022-02-25","v":104.4},{"d":"2022-02-28","v":104.8},
{"d":"2022-03-01","v":103.2},{"d":"2022-03-02","v":104.6},{"d":"2022-03-04","v":101.7},{"d":"2022-03-07","v":97.9},{"d":"2022-03-08","v":97.4},{"d":"2022-03-09","v":100.9},{"d":"2022-03-10","v":100.1},{"d":"2022-03-11","v":97.9},{"d":"2022-03-14","v":95.9},{"d":"2022-03-15","v":98.7},{"d":"2022-03-16","v":102.2},{"d":"2022-03-17","v":103.3},{"d":"2022-03-18","v":105.6},{"d":"2022-03-21","v":105.4},{"d":"2022-03-22","v":107.5},{"d":"2022-03-23","v":106},{"d":"2022-03-24","v":108.2},{"d":"2022-03-25","v":108},{"d":"2022-03-28","v":109.5},{"d":"2022-03-29","v":111.4},{"d":"2022-03-31","v":108.3},
{"d":"2022-04-01","v":108.8},{"d":"2022-04-04","v":110.7},{"d":"2022-04-06","v":106},{"d":"2022-04-07","v":106},{"d":"2022-04-08","v":104.5},{"d":"2022-04-11","v":102.3},{"d":"2022-04-12","v":101.9},{"d":"2022-04-13","v":104},{"d":"2022-04-14","v":101.7},{"d":"2022-04-18","v":101.7},{"d":"2022-04-19","v":103.7},{"d":"2022-04-20","v":102.9},{"d":"2022-04-21","v":100.4},{"d":"2022-04-22","v":97.9},{"d":"2022-04-25","v":99.2},{"d":"2022-04-26","v":95.2},{"d":"2022-04-27","v":95.2},{"d":"2022-04-28","v":97.9},{"d":"2022-04-29","v":94},
{"d":"2022-05-02","v":95.5},{"d":"2022-05-03","v":95.8},{"d":"2022-05-04","v":98.9},{"d":"2022-05-05","v":93.9},{"d":"2022-05-06","v":92.4},{"d":"2022-05-08","v":88.8},{"d":"2022-05-09","v":88.6},{"d":"2022-05-10","v":89.4},{"d":"2022-05-11","v":86.6},{"d":"2022-05-12","v":86.6},{"d":"2022-05-13","v":89.9},{"d":"2022-05-16","v":88.8},{"d":"2022-05-17","v":91.4},{"d":"2022-05-18","v":87.1},{"d":"2022-05-20","v":86.5},{"d":"2022-05-23","v":87.9},{"d":"2022-05-24","v":85.7},{"d":"2022-05-25","v":87.1},{"d":"2022-05-26","v":89.2},{"d":"2022-05-27","v":92.4},{"d":"2022-05-31","v":92},
{"d":"2022-06-01","v":91.4},{"d":"2022-06-02","v":93.7},{"d":"2022-06-03","v":91.6},{"d":"2022-06-06","v":92},{"d":"2022-06-07","v":92.8},{"d":"2022-06-08","v":92},{"d":"2022-06-09","v":89.6},{"d":"2022-06-10","v":86.4},{"d":"2022-06-13","v":82.4},{"d":"2022-06-14","v":82.6},{"d":"2022-06-15","v":84.6},{"d":"2022-06-16","v":81.1},{"d":"2022-06-17","v":82.3},{"d":"2022-06-21","v":84.4},{"d":"2022-06-22","v":84.3},{"d":"2022-06-23","v":85.4},{"d":"2022-06-24","v":88.4},{"d":"2022-06-27","v":87.8},{"d":"2022-06-28","v":85.3},{"d":"2022-06-29","v":85.1},{"d":"2022-06-30","v":84.1},
{"d":"2022-07-01","v":84.9},{"d":"2022-07-05","v":86.5},{"d":"2022-07-06","v":86.7},{"d":"2022-07-07","v":88.6},{"d":"2022-07-08","v":88.8},{"d":"2022-07-11","v":86.5},{"d":"2022-07-12","v":85.8},{"d":"2022-07-13","v":85.6},{"d":"2022-07-14","v":85.9},{"d":"2022-07-15","v":87.4},{"d":"2022-07-18","v":86.6},{"d":"2022-07-19","v":89.2},{"d":"2022-07-21","v":91.9},{"d":"2022-07-22","v":90.2},{"d":"2022-07-25","v":89.8},{"d":"2022-07-26","v":88.1},{"d":"2022-07-27","v":91.7},{"d":"2022-07-28","v":92.6},{"d":"2022-07-29","v":94.6},
{"d":"2022-08-02","v":94.1},{"d":"2022-08-03","v":96.5},{"d":"2022-08-04","v":97},{"d":"2022-08-05","v":96.4},{"d":"2022-08-08","v":96.4},{"d":"2022-08-09","v":95.2},{"d":"2022-08-10","v":97.9},{"d":"2022-08-11","v":97.4},{"d":"2022-08-12","v":99.5},{"d":"2022-08-15","v":100},{"d":"2022-08-16","v":99.9},{"d":"2022-08-17","v":98.5},{"d":"2022-08-18","v":98.7},{"d":"2022-08-19","v":96.9},{"d":"2022-08-22","v":94.4},{"d":"2022-08-23","v":94.4},{"d":"2022-08-24","v":94.9},{"d":"2022-08-25","v":96.2},{"d":"2022-08-26","v":92.6},{"d":"2022-08-29","v":91.6},{"d":"2022-08-30","v":90.6},{"d":"2022-08-31","v":90},
{"d":"2022-09-01","v":89.7},{"d":"2022-09-02","v":88.6},{"d":"2022-09-06","v":88},{"d":"2022-09-07","v":89.9},{"d":"2022-09-08","v":90.4},{"d":"2022-09-09","v":92.4},{"d":"2022-09-12","v":93.6},{"d":"2022-09-13","v":88.9},{"d":"2022-09-14","v":89.2},{"d":"2022-09-15","v":88.1},{"d":"2022-09-16","v":87.3},{"d":"2022-09-19","v":87.9},{"d":"2022-09-21","v":85.5},{"d":"2022-09-22","v":84.4},{"d":"2022-09-23","v":82.9},{"d":"2022-09-26","v":82.4},{"d":"2022-09-27","v":82.8},{"d":"2022-09-28","v":84.3},{"d":"2022-09-29","v":81.6},{"d":"2022-09-30","v":80.6},
{"d":"2022-10-03","v":82.5},{"d":"2022-10-04","v":84.9},{"d":"2022-10-05","v":84.5},{"d":"2022-10-06","v":81.3},{"d":"2022-10-10","v":80.3},{"d":"2022-10-11","v":79.5},{"d":"2022-10-12","v":79.5},{"d":"2022-10-13","v":81.1},{"d":"2022-10-14","v":78.8},{"d":"2022-10-18","v":82.1},{"d":"2022-10-19","v":81.3},{"d":"2022-10-20","v":80.9},{"d":"2022-10-21","v":82.8},{"d":"2022-10-24","v":83.5},{"d":"2022-10-25","v":85.4},{"d":"2022-10-27","v":82.3},{"d":"2022-10-28","v":84.4},{"d":"2022-10-31","v":83.6},
{"d":"2022-11-01","v":82.9},{"d":"2022-11-02","v":80.6},{"d":"2022-11-03","v":78.9},{"d":"2022-11-04","v":79.9},{"d":"2022-11-07","v":80.6},{"d":"2022-11-08","v":80.9},{"d":"2022-11-09","v":78.8},{"d":"2022-11-10","v":84.6},{"d":"2022-11-11","v":86.3},{"d":"2022-11-14","v":85.4},{"d":"2022-11-15","v":86.5},{"d":"2022-11-16","v":85.3},{"d":"2022-11-17","v":84.9},{"d":"2022-11-18","v":84.9},{"d":"2022-11-21","v":84.1},{"d":"2022-11-22","v":85.3},{"d":"2022-11-23","v":86.1},{"d":"2022-11-25","v":85.6},{"d":"2022-11-29","v":83.7},{"d":"2022-11-30","v":87.3},
{"d":"2022-12-01","v":87.6},{"d":"2022-12-02","v":87.4},{"d":"2022-12-05","v":85.8},{"d":"2022-12-06","v":84.1},{"d":"2022-12-07","v":83.6},{"d":"2022-12-08","v":84.5},{"d":"2022-12-09","v":84},{"d":"2022-12-12","v":85.1},{"d":"2022-12-13","v":85.9},{"d":"2022-12-14","v":85.3},{"d":"2022-12-15","v":82.7},{"d":"2022-12-16","v":81.7},{"d":"2022-12-19","v":80.3},{"d":"2022-12-20","v":80.4},{"d":"2022-12-21","v":81.6},{"d":"2022-12-22","v":79.8},{"d":"2022-12-23","v":80.1},{"d":"2022-12-27","v":78.8},{"d":"2022-12-28","v":77.8},{"d":"2022-12-29","v":79.8},{"d":"2022-12-30","v":79.6}
]},
 "mark": {"type": "line", "strokeWidth": 5.5, "strokeJoin": "round", "strokeCap": "round"},
 "encoding": {"color": {"datum": "Nasdaq", "type": "nominal"}}
}
]
}
